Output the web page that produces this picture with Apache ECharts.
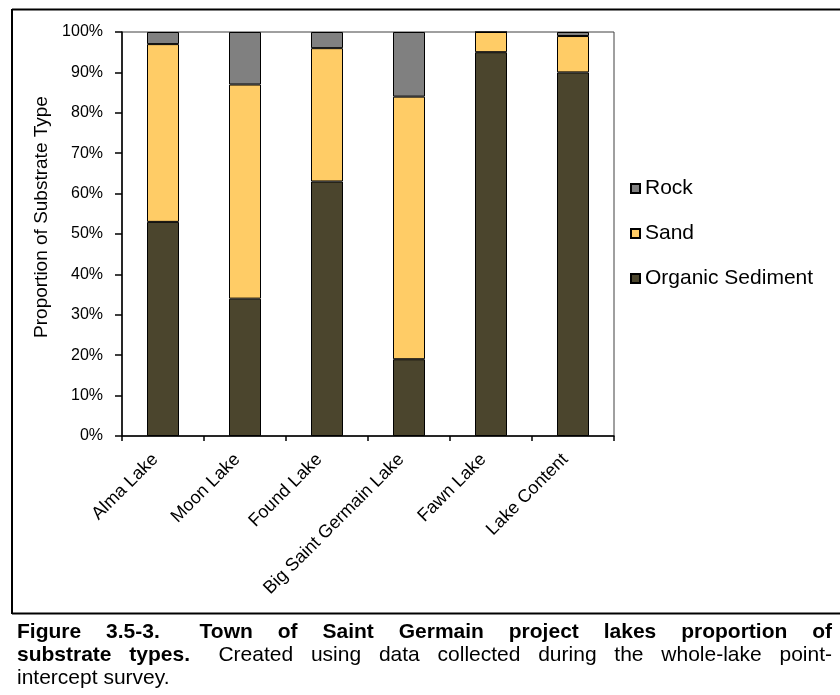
<!DOCTYPE html>
<html><head><meta charset="utf-8">
<script src="https://cdn.jsdelivr.net/npm/echarts@6/dist/echarts.min.js"></script>
<style>html,body{margin:0;padding:0;background:#fff}#c{width:840px;height:695px}</style>
</head><body><div id="c"></div>
<script>
// ---- data ----
const categories = ['Alma Lake', 'Moon Lake', 'Found Lake', 'Big Saint Germain Lake', 'Fawn Lake', 'Lake Content'];
const organicSediment = [53, 34, 63, 19, 95, 90];
const sand = [44, 53, 33, 65, 5, 9];
const rock = [3, 13, 4, 16, 0, 1];
const seriesNames = ['Organic Sediment', 'Sand', 'Rock'];
const legendOrder = ['Rock', 'Sand', 'Organic Sediment'];
const yAxisTitle = 'Proportion of Substrate Type';
const captionLine1 = [['Figure', 1, 1], ['3.5-3.', 1, 1.6], ['Town', 1, 1], ['of', 1, 1], ['Saint', 1, 1], ['Germain', 1, 1], ['project', 1, 1], ['lakes', 1, 1], ['proportion', 1, 1], ['of', 1, 0]];
const captionLine2 = [['substrate', 1, 1], ['types.', 1, 1.6], ['Created', 0, 1], ['using', 0, 1], ['data', 0, 1], ['collected', 0, 1], ['during', 0, 1], ['the', 0, 1], ['whole-lake', 0, 1], ['point-', 0, 0]];
const captionLine3 = 'intercept survey.';

// ---- style ----
const FONT = '"Liberation Sans", Arial, sans-serif';
const colors = { 'Organic Sediment': '#4B452D', 'Sand': '#FFCC66', 'Rock': '#808080' };
const dataBySeries = { 'Organic Sediment': organicSediment, 'Sand': sand, 'Rock': rock };

const chart = echarts.init(document.getElementById('c'), null, { renderer: 'canvas' });

// caption layout helpers
const mctx = document.createElement('canvas').getContext('2d');
const CAP_SIZE = 21, CAP_SX = 1.0;
function measure(t, bold) {
  mctx.font = (bold ? 'bold ' : '') + CAP_SIZE + 'px ' + FONT;
  return mctx.measureText(t).width * CAP_SX;
}
function capText(t, bold, x, y) {
  return {
    type: 'text', x: x, y: y, scaleX: CAP_SX, silent: true,
    style: { text: t, fill: '#000', font: (bold ? 'bold ' : '') + CAP_SIZE + 'px ' + FONT, verticalAlign: 'middle', align: 'left' }
  };
}
function justifyLine(words, x0, x1, y) {
  const widths = words.map(w => measure(w[0], w[1]));
  const total = widths.reduce((a, b) => a + b, 0);
  const wsum = words.reduce((a, w) => a + w[2], 0);
  const unit = (x1 - x0 - total) / wsum;
  let x = x0;
  const out = [];
  words.forEach((w, i) => {
    out.push(capText(w[0], w[1], x, y));
    x += widths[i] + unit * w[2];
  });
  return out;
}

const graphics = [
  { type: 'line', shape: { x1: 12, y1: 9.5, x2: 840, y2: 9.5 }, style: { stroke: '#000', lineWidth: 2 }, silent: true },
  { type: 'line', shape: { x1: 12, y1: 9, x2: 12, y2: 614 }, style: { stroke: '#000', lineWidth: 2 }, silent: true },
  { type: 'line', shape: { x1: 12, y1: 613.5, x2: 840, y2: 613.5 }, style: { stroke: '#000', lineWidth: 2 }, silent: true },
  { type: 'text', x: 42, y: 217, rotation: Math.PI / 2, silent: true,
    style: { text: yAxisTitle, fill: '#000', font: '19px ' + FONT, align: 'center', verticalAlign: 'middle' } }
].concat(
  justifyLine(captionLine1, 17, 832, 632),
  justifyLine(captionLine2, 17, 832, 655),
  [capText(captionLine3, 0, 17, 678)]
);

const option = {
  animation: false,
  backgroundColor: '#fff',
  textStyle: { fontFamily: FONT },
  grid: { left: 122, right: 226, top: 32, bottom: 259, show: true, borderColor: '#404040', borderWidth: 1, containLabel: false },
  legend: {
    orient: 'vertical', left: 630, top: 178, itemGap: 24, padding: 0,
    itemWidth: 9, itemHeight: 9, icon: 'rect',
    data: legendOrder,
    textStyle: { fontSize: 21, color: '#000', fontFamily: FONT },
    selectedMode: false
  },
  xAxis: {
    type: 'category', data: categories, boundaryGap: true,
    axisLine: { lineStyle: { color: '#000', width: 1.5 } },
    axisTick: { show: true, length: 5, inside: false, alignWithLabel: false, lineStyle: { color: '#000', width: 1.5 } },
    axisLabel: { rotate: 45, interval: 0, margin: 13, padding: [0, 11, 0, 0], fontSize: 18, color: '#000', fontFamily: FONT }
  },
  yAxis: {
    type: 'value', min: 0, max: 100, interval: 10,
    axisLine: { show: true, lineStyle: { color: '#000', width: 1.5 } },
    axisTick: { show: true, length: 7, lineStyle: { color: '#000', width: 1.5 } },
    splitLine: { show: false },
    axisLabel: { formatter: '{value}%', fontSize: 16, color: '#000', margin: 19, fontFamily: FONT }
  },
  series: seriesNames.map(n => ({
    name: n, type: 'bar', stack: 'total', barWidth: 32,
    data: dataBySeries[n],
    itemStyle: { color: colors[n], borderColor: '#000', borderWidth: 1 }
  })),
  graphic: graphics
};
chart.setOption(option);
</script>
</body></html>
